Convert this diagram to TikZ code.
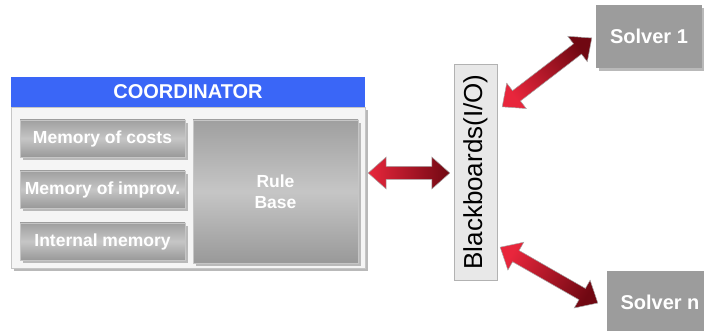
\documentclass[tikz,border=0pt]{standalone}
\usepackage{fontspec}
\setmainfont{Liberation Sans}
\usepackage{tikz}
\usetikzlibrary{shapes,arrows,positioning,calc,shadows}

\definecolor{coordblue}{HTML}{3A66F7}
\definecolor{boxgray}{HTML}{9C9C9C}
\definecolor{arrowlight}{HTML}{E8263C}
\definecolor{arrowdark}{HTML}{700812}

\tikzset{
  hardshadow/.style={drop shadow={shadow xshift=3pt, shadow yshift=-3pt, fill=gray!55, opacity=1}},
  memorybox/.style={hardshadow, draw=gray!45, top color=gray!75, bottom color=gray!80, middle color=gray!45,
    text=white, font=\fontsize{17.5}{21.5}\selectfont\bfseries, inner sep=0pt, minimum width=165, minimum height=37},
  solverbox/.style={hardshadow, fill=boxgray, text=white, font=\fontsize{20}{24}\selectfont\bfseries,
    inner sep=0pt, minimum width=106, minimum height=63},
  arrowbody/.style={draw=gray!70, line width=0.5pt, top color=arrowdark, bottom color=arrowlight},
}

% fat two-headed arrow: start, end, shading angle
\newcommand\fatarrow[3]{%
  \path (#1) coordinate (fa-a) (#2) coordinate (fa-b);
  \coordinate (fa-p) at ($(fa-a)!18pt!(fa-b)$);
  \coordinate (fa-q) at ($(fa-b)!18pt!(fa-a)$);
  \draw[arrowbody, shading angle=#3] (fa-a)
    -- ($(fa-p)!16pt!90:(fa-b)$) -- ($(fa-p)!6.5pt!90:(fa-b)$)
    -- ($(fa-q)!6.5pt!-90:(fa-a)$) -- ($(fa-q)!16pt!-90:(fa-a)$)
    -- (fa-b)
    -- ($(fa-q)!16pt!90:(fa-a)$) -- ($(fa-q)!6.5pt!90:(fa-a)$)
    -- ($(fa-p)!6.5pt!-90:(fa-b)$) -- ($(fa-p)!16pt!-90:(fa-b)$) -- cycle;}

\begin{document}
\begin{tikzpicture}[x=1pt,y=-1pt]
  \useasboundingbox (0,0) rectangle (704,331);
  \clip (0,0) rectangle (704,331);

  % coordinator frame and title bar
  \node[hardshadow, draw=gray!45, fill=gray!8, minimum width=354, minimum height=161, inner sep=0pt] (coord) at (188,187.5) {};
  \node[fill=coordblue, text=white, font=\fontsize{20}{24}\selectfont\bfseries,
        minimum width=354, minimum height=30, inner sep=0pt] (title) at (188,92) {COORDINATOR};

  % memories and rules
  \node[memorybox] (costs) at (102.5,138.5) {Memory of costs};
  \node[memorybox] (improv) at (102.5,189.5) {Memory of improv.};
  \node[memorybox] (internal) at (102.5,241.5) {Internal memory};
  \node[memorybox, minimum height=143, align=center] (rules) at (275.5,191.5) {Rule\\Base};

  % blackboard (rotated, so north is the left side)
  \node[draw=gray!60, fill=gray!18, rotate=90, minimum width=216, minimum height=43, inner sep=0pt,
        font=\fontsize{26}{31}\selectfont] (bb) at (475.5,172) {Blackboards(I/O)};

  % solvers
  \node[solverbox] (s1) at (649,36.5) {Solver 1};
  \node[solverbox] (sn) at (660,302) {Solver n};

  % links
  \fatarrow{$(coord.east |- bb.center)+(3,1)$}{$(bb.north)+(-4,1)$}{-90}
  \fatarrow{$(bb.south east)+(5,43)$}{$(s1.west)+(-4,1.5)$}{-52.5}
  \fatarrow{$(bb.south west)+(3,-33)$}{$(sn.west)+(-9,1)$}{-119.7}
\end{tikzpicture}
\end{document}
